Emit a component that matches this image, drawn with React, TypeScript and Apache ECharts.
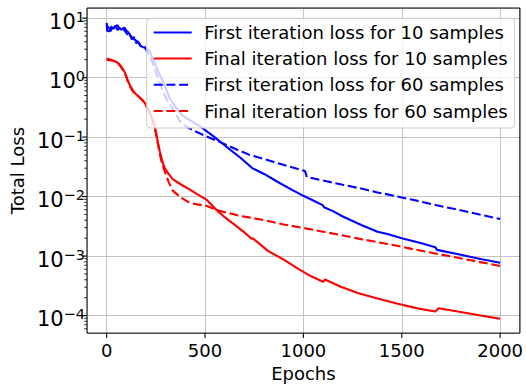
import React, { useEffect, useRef } from "react";
import * as echarts from "echarts";

// ---------- data ----------
const seriesNames = [
  "First iteration loss for 10 samples",
  "Final iteration loss for 10 samples",
  "First iteration loss for 60 samples",
  "Final iteration loss for 60 samples",
];

const first10Epochs = [0, 3, 12, 22, 28, 35, 45, 55, 65, 75, 90, 100, 110, 120, 135, 150, 160, 172, 185, 200, 215, 240, 265, 286, 320, 350, 386, 430, 471, 540, 606, 680, 738, 745, 800, 870, 940, 1000, 1050, 1100, 1105, 1150, 1200, 1300, 1377, 1427, 1500, 1600, 1670, 1679, 1800, 1900, 2000];
const first10Loss = [8.3, 6.1, 6.0, 6.2, 7.0, 6.6, 7.4, 6.3, 6.9, 6.4, 6.9, 6.2, 5.8, 5.1, 4.5, 4.2, 4.0, 3.4, 3.25, 3.1, 2.9, 1.9, 1.2, 0.86, 0.45, 0.32, 0.23, 0.185, 0.155, 0.105, 0.070, 0.045, 0.0305, 0.0295, 0.024, 0.0176, 0.0131, 0.0103, 0.0086, 0.0071, 0.0066, 0.0057, 0.00462, 0.00327, 0.00257, 0.00235, 0.00200, 0.00164, 0.00141, 0.00127, 0.00105, 0.00089, 0.00077];

const final10Epochs = [0, 20, 40, 55, 70, 85, 95, 110, 120, 128, 137, 145, 158, 170, 182, 195, 210, 228, 245, 258, 270, 282, 295, 315, 337, 380, 421, 460, 505, 555, 600, 656, 700, 738, 742, 760, 820, 900, 980, 1040, 1100, 1109, 1190, 1280, 1377, 1480, 1580, 1670, 1687, 1800, 1900, 2000];
const final10Loss = [2.0, 1.95, 1.88, 1.8, 1.6, 1.35, 1.17, 0.85, 0.72, 0.66, 0.58, 0.54, 0.5, 0.46, 0.42, 0.37, 0.3, 0.22, 0.15, 0.09, 0.058, 0.04, 0.03, 0.024, 0.0194, 0.0158, 0.0132, 0.011, 0.009, 0.0061, 0.0045, 0.00325, 0.0025, 0.00194, 0.002, 0.00178, 0.00122, 0.00087, 0.00059, 0.000457, 0.000369, 0.000403, 0.000304, 0.000237, 0.000194, 0.000158, 0.000132, 0.0001166, 0.0001324, 0.000115, 0.0001, 0.0000881];

const first60Epochs = [0, 8, 18, 30, 42, 55, 68, 80, 95, 105, 115, 128, 140, 150, 162, 175, 190, 200, 230, 260, 286, 310, 336, 370, 405, 450, 505, 560, 606, 670, 724, 773, 850, 930, 1008, 1018, 1100, 1200, 1300, 1377, 1427, 1550, 1700, 1850, 2000];
const first60Loss = [7.6, 7.0, 6.5, 7.8, 7.2, 7.6, 6.4, 7.0, 5.9, 5.3, 5.6, 4.4, 4.8, 3.8, 3.9, 3.3, 3.4, 3.0, 1.9, 1.0, 0.58, 0.4, 0.3, 0.19, 0.15, 0.125, 0.103, 0.087, 0.0744, 0.06, 0.0507, 0.0454, 0.0382, 0.0318, 0.0268, 0.0213, 0.0186, 0.0158, 0.0135, 0.0117, 0.0109, 0.0089, 0.0069, 0.0054, 0.0042];

const final60Epochs = [0, 20, 40, 55, 70, 85, 95, 110, 120, 128, 137, 145, 158, 170, 182, 195, 210, 228, 245, 258, 270, 282, 295, 315, 337, 380, 421, 460, 505, 572, 672, 724, 800, 900, 1000, 1100, 1200, 1300, 1377, 1427, 1550, 1700, 1850, 2000];
const final60Loss = [2.1, 2.0, 1.9, 1.8, 1.55, 1.3, 1.12, 0.82, 0.7, 0.62, 0.57, 0.52, 0.49, 0.45, 0.41, 0.36, 0.29, 0.21, 0.14, 0.085, 0.052, 0.035, 0.0268, 0.0175, 0.01245, 0.0095, 0.0079, 0.0074, 0.007, 0.00578, 0.00477, 0.00447, 0.004, 0.0034, 0.00297, 0.00257, 0.00222, 0.00191, 0.00171, 0.0016, 0.00132, 0.00106, 0.00085, 0.00068];

const xTicks = [0, 500, 1000, 1500, 2000];
const yDecades = [-4, -3, -2, -1, 0, 1];
const minorMultipliers = [2, 3, 4, 5, 6, 7, 8, 9];

// ---------- layout / style ----------
const X_MIN = -100;
const X_MAX = 2100;
const Y_LOG_MIN = -4.295;
const Y_LOG_MAX = 1.17;
const FONT = "DejaVu Sans";
const BLUE = "#0000ff";
const RED = "#ff0000";
const DASH = [9, 3.7];
const LEGEND_BOX = { x: 146.7, y: 18.3, w: 368, h: 109.7 };

const toLogData = (ep: number[], vals: number[]) =>
  ep.map((e, i) => [e, Math.log10(vals[i])]);

const supText = (n: number) => (n < 0 ? "\u2212" + Math.abs(n) : String(n));

export default function App() {
  const ref = useRef<HTMLDivElement>(null);
  useEffect(() => {
    if (!ref.current) return;
    const chart = echarts.init(ref.current, undefined, { renderer: "svg" });

    // tick marks: kind 0 = x major, 1 = y major, 2 = y minor
    const tickData: number[][] = [];
    xTicks.forEach((v) => tickData.push([0, v]));
    yDecades.forEach((v) => tickData.push([1, v]));
    for (let d = -5; d <= 1; d++) {
      minorMultipliers.forEach((m) => {
        const lv = d + Math.log10(m);
        if (lv > Y_LOG_MIN && lv < Y_LOG_MAX) tickData.push([2, lv]);
      });
    }

    const lineSeries = (name: string, ep: number[], vals: number[], color: string, dashed: boolean) => ({
      name,
      type: "line",
      data: toLogData(ep, vals),
      showSymbol: false,
      symbol: "none",
      color,
      itemStyle: { color },
      lineStyle: { color, width: 2.1, type: dashed ? DASH : "solid", cap: "butt" },
      z: 2,
    });

    chart.setOption({
      animation: false,
      grid: {
        left: 86,
        top: 8,
        right: 1.3,
        bottom: 50.3,
        show: true,
        borderColor: "#000",
        borderWidth: 1,
        backgroundColor: "transparent",
        z: 5,
      },
      graphic: [
        {
          type: "rect",
          z: 50,
          silent: true,
          shape: { x: LEGEND_BOX.x, y: LEGEND_BOX.y, width: LEGEND_BOX.w, height: LEGEND_BOX.h, r: 4 },
          style: { fill: "rgba(255,255,255,0.8)", stroke: "#cccccc", lineWidth: 1 },
        },
      ],
      xAxis: {
        type: "value",
        min: X_MIN,
        max: X_MAX,
        splitNumber: 5,
        name: "Epochs",
        nameLocation: "middle",
        nameGap: 29,
        nameTextStyle: { fontFamily: FONT, fontSize: 18, color: "#000" },
        axisLine: { show: false },
        axisTick: { show: false },
        axisLabel: {
          margin: 8,
          fontFamily: FONT,
          fontSize: 18,
          color: "#000",
          showMinLabel: false,
          showMaxLabel: false,
          formatter: (v: number) => (xTicks.indexOf(v) >= 0 ? String(v) : ""),
        },
        splitLine: { show: true, lineStyle: { color: "#c4c4c4", width: 1 } },
      },
      yAxis: {
        type: "value",
        min: Y_LOG_MIN,
        max: Y_LOG_MAX,
        splitNumber: 5,
        name: "Total Loss",
        nameLocation: "middle",
        nameGap: 57,
        nameTextStyle: { fontFamily: FONT, fontSize: 18, color: "#000" },
        axisLine: { show: false },
        axisTick: { show: false },
        axisLabel: {
          margin: 2,
          color: "#000",
          fontFamily: FONT,
          formatter: (v: number) => {
            const r = Math.round(v);
            if (Math.abs(v - r) > 1e-6 || yDecades.indexOf(r) < 0) return "";
            return "{b|10}{s|" + supText(r) + "}";
          },
          rich: {
            b: { fontFamily: FONT, fontSize: 21, color: "#000", lineHeight: 28, padding: [4, 0, 0, 0], verticalAlign: "bottom" },
            s: { fontFamily: FONT, fontSize: 14.5, color: "#000", lineHeight: 14, padding: [5, 0, 0, 0], verticalAlign: "top" },
          },
        },
        splitLine: { show: true, lineStyle: { color: "#c4c4c4", width: 1 } },
      },
      legend: {
        z: 60,
        orient: "vertical",
        left: 146.7,
        top: 18.3,
        itemWidth: 38,
        itemHeight: 26,
        itemGap: 0,
        padding: [1, 6, 3, 6],
        backgroundColor: "transparent",
        borderWidth: 0,
        itemStyle: { color: "rgba(0,0,0,0)", borderColor: "rgba(0,0,0,0)", borderWidth: 0 },
        textStyle: { fontFamily: FONT, fontSize: 18, lineHeight: 26.2, color: "#000", padding: [0, 0, 0, 7.5] },
        data: seriesNames,
      },
      series: [
        lineSeries(seriesNames[0], first10Epochs, first10Loss, BLUE, false),
        lineSeries(seriesNames[1], final10Epochs, final10Loss, RED, false),
        lineSeries(seriesNames[2], first60Epochs, first60Loss, BLUE, true),
        lineSeries(seriesNames[3], final60Epochs, final60Loss, RED, true),
        {
          type: "custom",
          silent: true,
          clip: false,
          z: 6,
          data: tickData,
          renderItem: (params: any, api: any) => {
            const cs = params.coordSys;
            const kind = api.value(0);
            const v = api.value(1);
            if (kind === 0) {
              const p = api.coord([v, Y_LOG_MIN]);
              const yb = cs.y + cs.height;
              return { type: "line", shape: { x1: p[0], y1: yb, x2: p[0], y2: yb + 4.9 }, style: { stroke: "#000", lineWidth: 1.1 } };
            }
            const p = api.coord([X_MIN, v]);
            const len = kind === 1 ? 4.9 : 2.8;
            const lw = kind === 1 ? 1.1 : 0.8;
            return { type: "line", shape: { x1: cs.x - len, y1: p[1], x2: cs.x, y2: p[1] }, style: { stroke: "#000", lineWidth: lw } };
          },
        },
      ],
    });
    return () => chart.dispose();
  }, []);
  return (
    <div
      ref={ref}
      style={{ position: "fixed", left: 0, top: 0, width: 526, height: 387, background: "#fff" }}
    />
  );
}
